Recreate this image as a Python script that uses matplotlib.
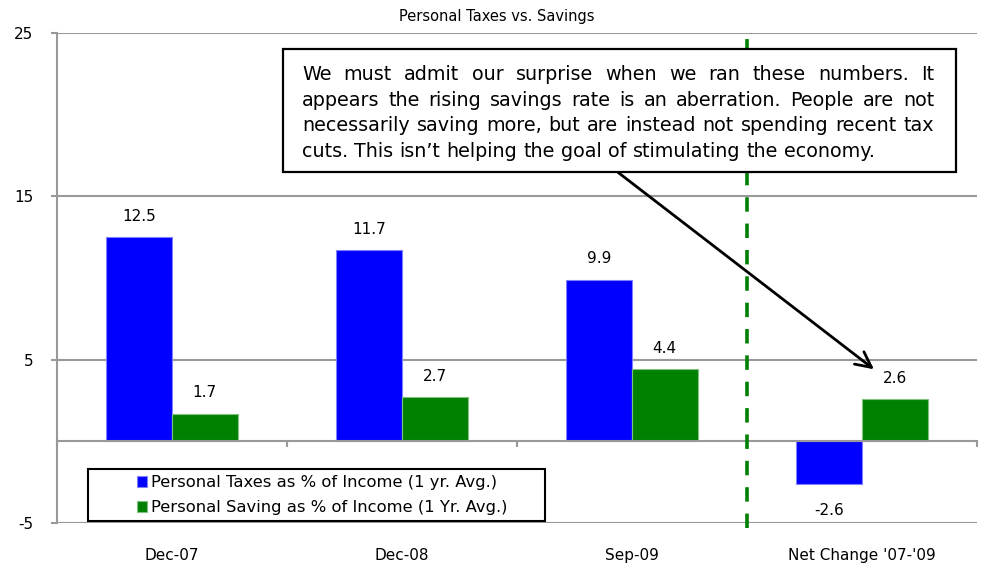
import matplotlib.pyplot as plt
import matplotlib.patches as mpatches
import numpy as np

# Daten
categories = ["Dec-07", "Dec-08", "Sep-09", "Net Change '07-'09"]
taxes = [12.5, 11.7, 9.9, -2.6]
saving = [1.7, 2.7, 4.4, 2.6]
tax_label = "Personal Taxes as % of Income (1 yr. Avg.)"
saving_label = "Personal Saving as % of Income (1 Yr. Avg.)"
yticks = [-5, 5, 15, 25]
title = "Personal Taxes vs. Savings"
note_lines = [
    "We must admit our surprise when we ran these numbers. It",
    "appears the rising savings rate is an aberration. People are not",
    "necessarily saving more, but are instead not spending recent tax",
    "cuts. This isn\u2019t helping the goal of stimulating the economy.",
]

plt.rcParams["font.family"] = "DejaVu Sans"
plt.rcParams["axes.unicode_minus"] = False

W, H = 987, 570
fig = plt.figure(figsize=(W / 100, H / 100), dpi=100)
ax = fig.add_axes([57 / W, 47 / H, 920 / W, 490 / H])

x = np.arange(len(categories))
w = 0.285
b1 = ax.bar(x - w / 2, taxes, w, color="#0000ff", edgecolor="#8080ff", linewidth=0.8, label=tax_label, zorder=2)
b2 = ax.bar(x + w / 2, saving, w, color="#008000", edgecolor="#80c080", linewidth=0.8, label=saving_label, zorder=2)

# Werte an den Balken
for bars, vals in [(b1, taxes), (b2, saving)]:
    for rect, v in zip(bars, vals):
        off = 15 if v >= 0 else -19
        ax.annotate(f"{v:.1f}", (rect.get_x() + rect.get_width() / 2, v),
                    xytext=(0, off), textcoords="offset points",
                    ha="center", va="center", fontsize=11)

ax.set_xlim(-0.5, len(categories) - 0.5)
ax.set_ylim(-5, 25)
ax.set_yticks(yticks)
ax.yaxis.grid(True, color="#999999", linewidth=1.5)
ax.set_axisbelow(True)

grey = "#999999"
for s in ["top", "right"]:
    ax.spines[s].set_visible(False)
ax.spines["left"].set_color(grey)
ax.spines["left"].set_linewidth(1.5)
ax.spines["bottom"].set_position(("data", 0))
ax.spines["bottom"].set_color(grey)
ax.spines["bottom"].set_linewidth(1.5)

ax.set_xticks(x)
ax.set_xticklabels(categories, fontsize=11)
ax.set_xticks(np.arange(len(categories) + 1) - 0.5, minor=True)
ax.tick_params(axis="x", which="major", length=0, pad=77)
ax.tick_params(axis="x", which="minor", length=4, width=1.5, color=grey, direction="out")
ax.tick_params(axis="y", length=4, width=1.5, color=grey, pad=13, labelsize=11)

# gestrichelte Trennlinie
ax.axvline(2.5, ymin=-0.011, ymax=0.992, color="#008000", linewidth=2.6,
           linestyle=(0, (4, 3.3)), clip_on=False, zorder=3)

# Legende ohne Rahmen + eigener Rahmen
leg = ax.legend(loc="center", bbox_to_anchor=(0.288, 0.057), frameon=False,
                fontsize=11.8, handlelength=0.65, handleheight=0.65,
                handletextpad=0.2, labelspacing=0.6, borderaxespad=0)
ax.add_patch(mpatches.Rectangle((31 / 920, 2 / 490), 457 / 920, 52 / 490,
                                transform=ax.transAxes, fill=False,
                                edgecolor="black", linewidth=1.5, zorder=4))

# Pfeil zum Net Change
ax.annotate("", xy=(3.052, 4.41), xytext=(1.939, 16.47),
            arrowprops=dict(arrowstyle="->", color="black", lw=2,
                            mutation_scale=28, shrinkA=0, shrinkB=0),
            annotation_clip=False)

# Textbox
fig.add_artist(mpatches.Rectangle((283 / W, 1 - 172 / H), 673 / W, 123 / H,
                                  transform=fig.transFigure, facecolor="white",
                                  edgecolor="black", linewidth=1.6, zorder=5))

renderer = fig.canvas.get_renderer()
fs = 13.8
t_sp1 = fig.text(0, 0, "a a", fontsize=fs)
t_sp2 = fig.text(0, 0, "aa", fontsize=fs)
space = t_sp1.get_window_extent(renderer).width - t_sp2.get_window_extent(renderer).width
t_sp1.remove()
t_sp2.remove()
left, right = 302, 934
for i, line in enumerate(note_lines):
    words = line.split(" ")
    yb = 1 - (80 + i * 25.5) / H
    texts = [fig.text(0, yb, wd, fontsize=fs, va="baseline", zorder=6) for wd in words]
    widths = [t.get_window_extent(renderer).width for t in texts]
    if i < len(note_lines) - 1:
        gap = (right - left - sum(widths)) / (len(words) - 1)
    else:
        gap = space
    pos = left
    for t, wd in zip(texts, widths):
        t.set_x(pos / W)
        pos += wd + gap

fig.text(497 / W, 1 - 17 / H, title, fontsize=10.5, ha="center", va="center")

plt.savefig("out.png", dpi=100)
